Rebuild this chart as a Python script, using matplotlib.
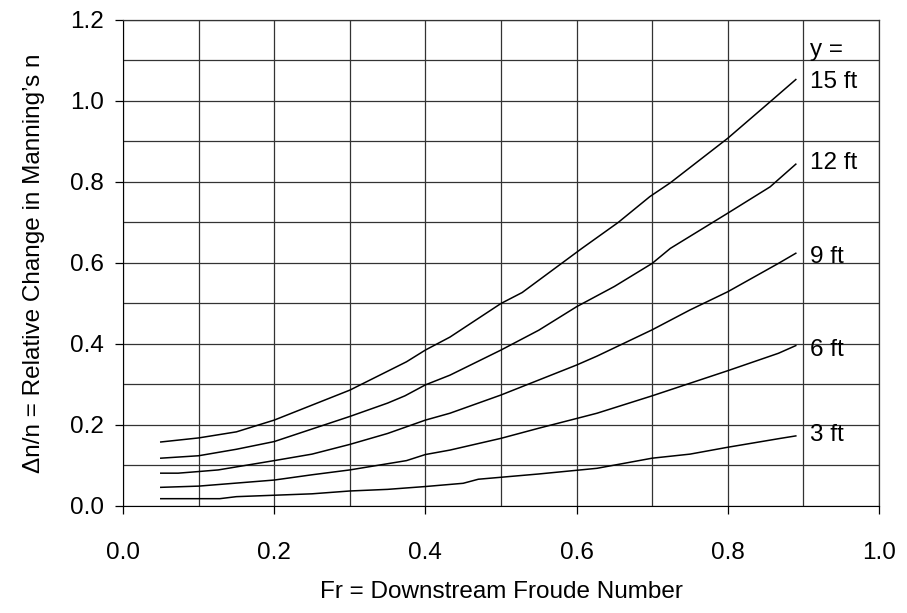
import matplotlib
matplotlib.use("Agg")
import matplotlib.pyplot as plt
from matplotlib.ticker import MultipleLocator

plt.rcParams['font.family'] = ['Liberation Sans', 'DejaVu Sans']

# Froude number / relative change in n for each depth
fr_3 = [0.05, 0.10, 0.128, 0.15, 0.25, 0.30, 0.35, 0.40, 0.45, 0.47, 0.55, 0.627, 0.70, 0.75, 0.80, 0.87, 0.89]
dn_3 = [0.018, 0.018, 0.018, 0.023, 0.030, 0.037, 0.041, 0.048, 0.056, 0.066, 0.079, 0.093, 0.118, 0.128, 0.145, 0.167, 0.173]

fr_6 = [0.05, 0.10, 0.20, 0.25, 0.30, 0.375, 0.40, 0.4325, 0.50, 0.55, 0.60, 0.627, 0.70, 0.75, 0.80, 0.867, 0.89]
dn_6 = [0.046, 0.049, 0.064, 0.077, 0.089, 0.112, 0.127, 0.138, 0.167, 0.192, 0.216, 0.229, 0.272, 0.303, 0.334, 0.377, 0.396]

fr_9 = [0.05, 0.073, 0.10, 0.126, 0.20, 0.25, 0.30, 0.35, 0.40, 0.4325, 0.50, 0.55, 0.60, 0.627, 0.70, 0.75, 0.80, 0.867, 0.89]
dn_9 = [0.081, 0.081, 0.085, 0.089, 0.112, 0.128, 0.152, 0.179, 0.212, 0.229, 0.274, 0.311, 0.348, 0.370, 0.435, 0.484, 0.529, 0.599, 0.624]

fr_12 = [0.05, 0.10, 0.15, 0.20, 0.25, 0.30, 0.35, 0.373, 0.40, 0.4325, 0.50, 0.55, 0.60, 0.65, 0.70, 0.724, 0.80, 0.856, 0.89]
dn_12 = [0.118, 0.124, 0.140, 0.159, 0.190, 0.221, 0.254, 0.272, 0.299, 0.323, 0.385, 0.434, 0.492, 0.542, 0.599, 0.636, 0.723, 0.788, 0.844]

fr_15 = [0.05, 0.10, 0.15, 0.20, 0.30, 0.375, 0.40, 0.4325, 0.50, 0.528, 0.607, 0.655, 0.697, 0.724, 0.80, 0.856, 0.89]
dn_15 = [0.158, 0.168, 0.183, 0.212, 0.286, 0.356, 0.385, 0.417, 0.500, 0.527, 0.636, 0.700, 0.764, 0.798, 0.908, 0.998, 1.053]

labels = ["3 ft", "6 ft", "9 ft", "12 ft", "15 ft"]
label_y = [0.175, 0.385, 0.615, 0.847, 1.047]

fig = plt.figure(figsize=(9.07, 6.13), dpi=100)
ax = fig.add_axes([0.1356, 0.1746, 0.8335, 0.7928])

for x, y in [(fr_3, dn_3), (fr_6, dn_6), (fr_9, dn_9), (fr_12, dn_12), (fr_15, dn_15)]:
    ax.plot(x, y, color="black", linewidth=1.1)

for lab, ly in zip(labels, label_y):
    ax.text(0.909, ly, lab, fontsize=17.5, va="center", ha="left")
ax.text(0.909, 1.126, "y =", fontsize=17.5, va="center", ha="left")

ax.set_xlim(0, 1.0)
ax.set_ylim(0, 1.2)
ax.xaxis.set_major_locator(MultipleLocator(0.2))
ax.yaxis.set_major_locator(MultipleLocator(0.2))
ax.xaxis.set_minor_locator(MultipleLocator(0.1))
ax.yaxis.set_minor_locator(MultipleLocator(0.1))
ax.xaxis.set_major_formatter(lambda v, p: f"{v:.1f}")
ax.yaxis.set_major_formatter(lambda v, p: f"{v:.1f}")
ax.grid(True, which="both", color="#333333", linewidth=0.9)
ax.tick_params(which="major", direction="out", length=6, width=0.9, labelsize=17.5, pad=20)
ax.tick_params(which="minor", length=0)
ax.tick_params(axis="y", pad=8)
for s in ["top", "right"]:
    ax.spines[s].set_color("#333333")
    ax.spines[s].set_linewidth(0.9)

ax.set_xlabel("Fr = Downstream Froude Number", fontsize=17.5, labelpad=12)
ax.set_ylabel("\u0394n/n = Relative Change in Manning\u2019s n", fontsize=17.5, labelpad=18)

fig.savefig("out.png", dpi=100)
